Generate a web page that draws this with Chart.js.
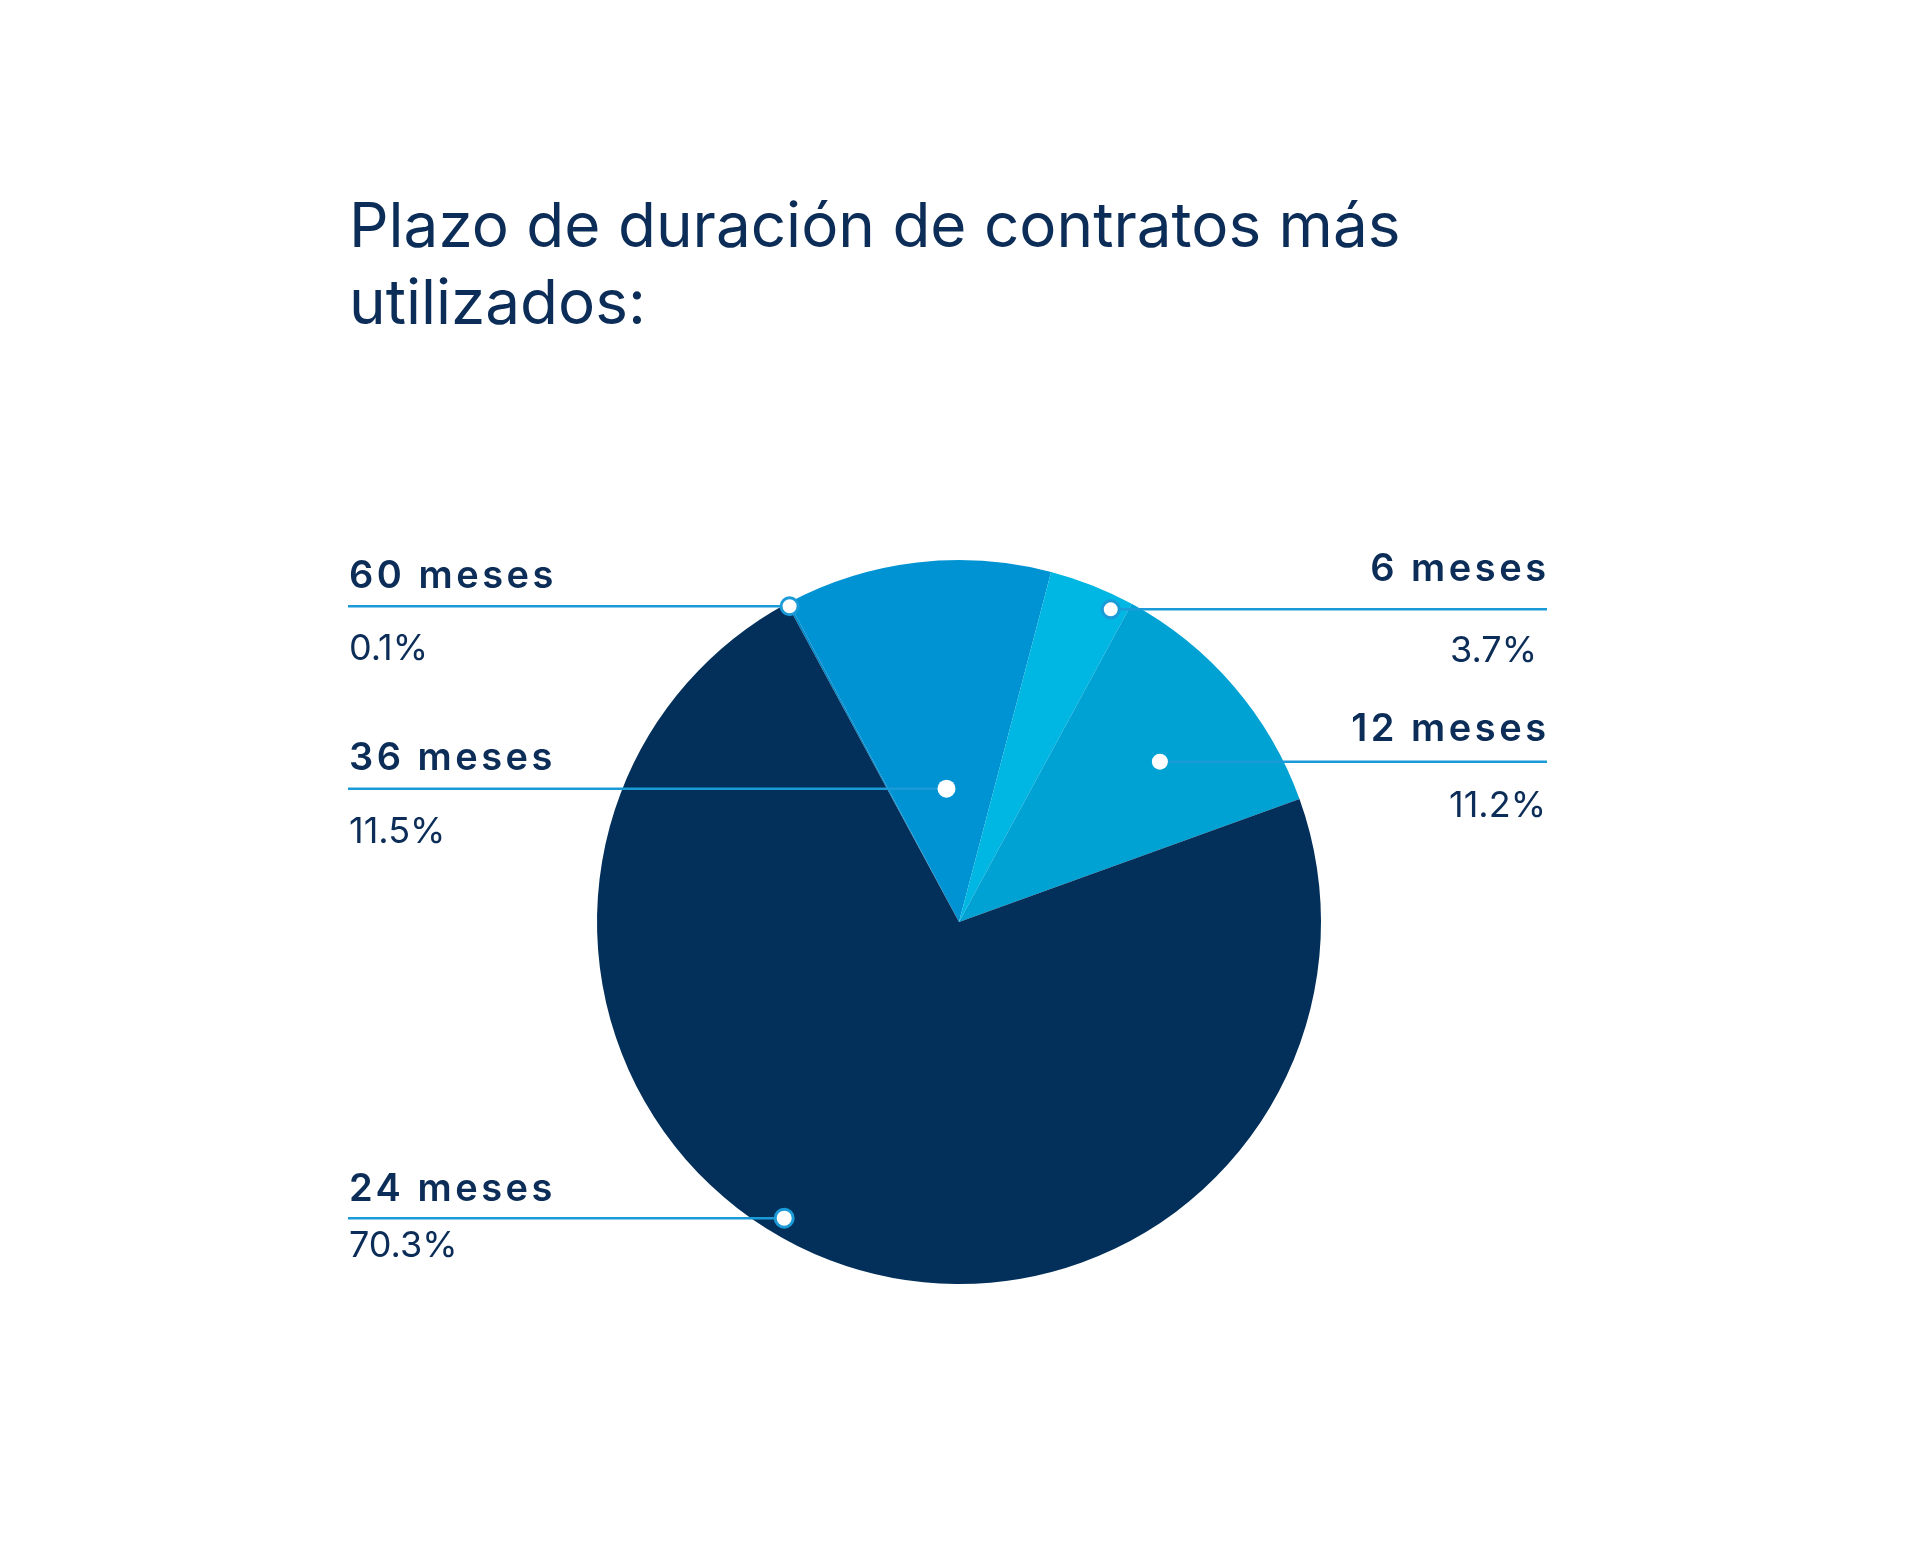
<!DOCTYPE html>
<html>
<head>
<meta charset="utf-8">
<script src="https://cdn.jsdelivr.net/npm/chart.js@4.4.1/dist/chart.umd.min.js"></script>
<style>
  html, body { margin: 0; padding: 0; background: #ffffff; }
  #wrap { position: relative; width: 1920px; height: 1548px; }
</style>
</head>
<body>
<div id="wrap"><canvas id="pie" width="1920" height="1548"></canvas></div>
<script>
// Data (slice order = clockwise from the top-left)
const titleLines = ['Plazo de duración de contratos más', 'utilizados:'];
const categories = ['60 meses', '36 meses', '6 meses', '12 meses', '24 meses'];
const shares = [0.1, 11.5, 3.7, 11.2, 70.3];
const shareLabels = ['0.1%', '11.5%', '3.7%', '11.2%', '70.3%'];

const sliceColors = ['#0088c8', '#0093d3', '#00b6e2', '#00a2d4', '#03305a'];
const navy = '#0c2d57';
const lineBlue = '#1a9bd7';

// where each callout sits: t = position across the slice, k = fraction of radius
const callouts = [
  { side: 'left',  t: 0.5,  k: 0.99, r: 10, ring: true,  nameDy: -18, pctDy: 54 },
  { side: 'left',  t: 0.53, k: 0.37, r: 9,  ring: false, nameDy: -19, pctDy: 54 },
  { side: 'right', t: 0.81, k: 0.96, r: 10, ring: true,  nameDy: -28, pctDy: 53, pctDx: -9 },
  { side: 'right', t: 0.55, k: 0.71, r: 8,  ring: false, nameDy: -21, pctDy: 55 },
  { side: 'left',  t: 0.537, k: 0.95, r: 10.5, ring: true, nameDy: -17, pctDy: 39 }
];
const leftX = 348, rightX = 1547;

const calloutPlugin = {
  id: 'callouts',
  afterDatasetsDraw(chart) {
    const ctx = chart.ctx;
    const arcs = chart.getDatasetMeta(0).data;
    ctx.save();

    // title
    ctx.fillStyle = navy;
    ctx.textAlign = 'left';
    ctx.textBaseline = 'alphabetic';
    ctx.font = '400 62px Inter';
    titleLines.forEach((t, i) => ctx.fillText(t, 349, 247 + i * 77));

    arcs.forEach((arc, i) => {
      const c = callouts[i];
      const p = arc.getProps(['x', 'y', 'startAngle', 'endAngle', 'outerRadius'], true);
      const a = p.startAngle + c.t * (p.endAngle - p.startAngle);
      const dx = p.x + Math.cos(a) * c.k * p.outerRadius;
      const dy = p.y + Math.sin(a) * c.k * p.outerRadius;

      // leader line
      ctx.strokeStyle = lineBlue;
      ctx.lineWidth = 2.5;
      ctx.beginPath();
      if (c.side === 'left') { ctx.moveTo(leftX, dy); ctx.lineTo(dx, dy); }
      else { ctx.moveTo(dx, dy); ctx.lineTo(rightX, dy); }
      ctx.stroke();

      // dot
      ctx.beginPath();
      ctx.arc(dx, dy, c.ring ? c.r - 1.5 : c.r, 0, Math.PI * 2);
      ctx.fillStyle = '#ffffff';
      ctx.fill();
      if (c.ring) {
        ctx.lineWidth = 3;
        ctx.strokeStyle = lineBlue;
        ctx.stroke();
      }

      // texts
      ctx.fillStyle = navy;
      const left = c.side === 'left';
      ctx.textAlign = left ? 'left' : 'right';
      ctx.font = '600 38px Inter';
      ctx.letterSpacing = '3.5px';
      ctx.fillText(categories[i], left ? leftX + 1 : rightX + 2.5, dy + c.nameDy);
      ctx.letterSpacing = '0px';
      ctx.font = '400 36px Inter';
      ctx.fillText(shareLabels[i], (left ? leftX + 1 : rightX - 1) + (c.pctDx || 0), dy + c.pctDy);
    });
    ctx.restore();
  }
};

new Chart(document.getElementById('pie'), {
  type: 'pie',
  data: {
    labels: categories,
    datasets: [{
      data: shares,
      backgroundColor: sliceColors,
      borderWidth: 0
    }]
  },
  options: {
    responsive: false,
    animation: false,
    devicePixelRatio: 1,
    rotation: -28.4,
    layout: { padding: { top: 560, bottom: 264, left: 0, right: 2 } },
    plugins: {
      legend: { display: false },
      tooltip: { enabled: false },
      title: { display: false }
    }
  },
  plugins: [calloutPlugin]
});
</script>
</body>
</html>
